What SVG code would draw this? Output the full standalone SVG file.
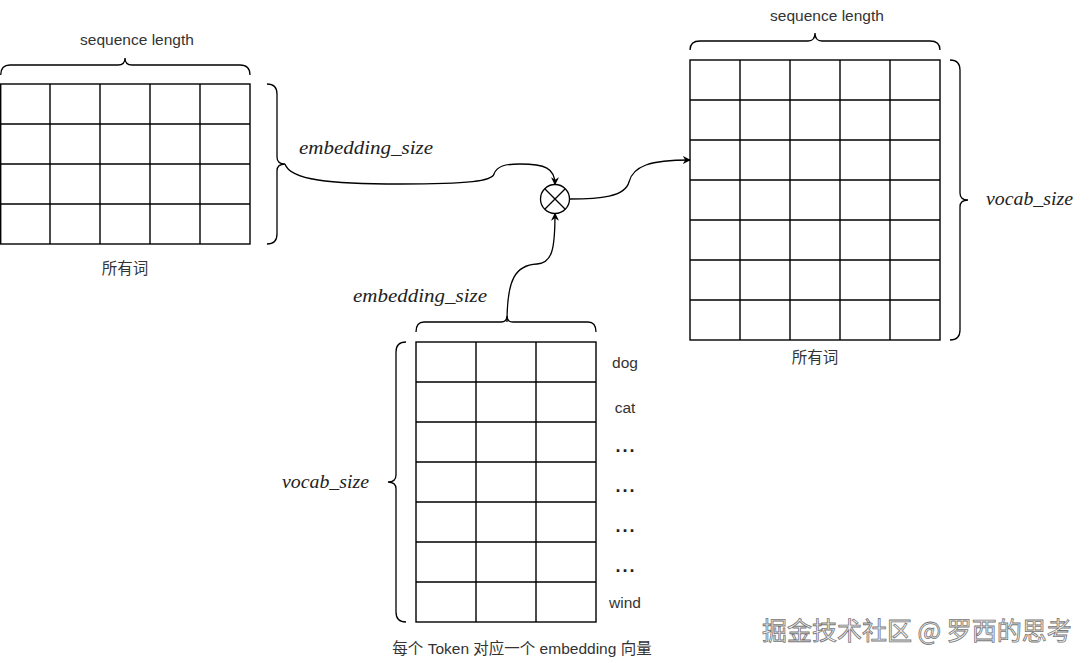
<svg xmlns="http://www.w3.org/2000/svg" width="1091" height="663" viewBox="0 0 1091 663">
<style>
.cell{fill:#fff;stroke:#000;stroke-width:1.4}
.grid{stroke:#000;stroke-width:1.4;fill:none}
.brace{fill:none;stroke:#000;stroke-width:1.3}
.conn{fill:none;stroke:#000;stroke-width:1.3}
.lbl{font-family:"Liberation Sans","Noto Sans CJK SC",sans-serif;font-size:15.5px;fill:#333}
.math{font-family:"Liberation Serif","DejaVu Serif",serif;font-style:italic;font-size:19px;fill:#222}
.dots{font-family:"Liberation Sans",sans-serif;font-size:18px;font-weight:bold;fill:#222;letter-spacing:2px}
.wm{font-family:"Noto Sans CJK SC",sans-serif;font-size:25px;fill:#f4f4f4;stroke:#777;stroke-width:0.8}
</style>
<defs>
<marker id="arr" viewBox="0 0 10 10" refX="9" refY="5" markerWidth="8" markerHeight="8" markerUnits="userSpaceOnUse" orient="auto">
<path d="M0,0 L10,5 L0,10 L3,5 Z" fill="#000"/>
</marker>
</defs>
<rect width="1091" height="663" fill="#fff"/>

<g id="matrix-left">
<rect class="cell" x="0.7" y="84" width="249.3" height="160"/>
<path class="grid" d="M50 84V244M100 84V244M150 84V244M200 84V244M0 124H250M0 164H250M0 204H250"/>
<path class="brace" d="M0.7 75 Q0.7 65 10 65 L118 65 Q125 65 125 58 Q125 65 132 65 L240 65 Q250 65 250 75"/>
<text class="lbl" x="137" y="45" text-anchor="middle">sequence length</text>
<path class="brace" d="M267 84 Q277 84 277 94 L277 157 Q277 164 285 164 Q277 164 277 171 L277 234 Q277 244 267 244"/>
<text class="math" x="299" y="154" textLength="134" lengthAdjust="spacingAndGlyphs">embedding_size</text>
<text class="lbl" x="125" y="274" text-anchor="middle" font-size="16">所有词</text>
</g>

<g id="multiply">
<circle cx="555" cy="199" r="14.5" fill="#fff" stroke="#000" stroke-width="1.3"/>
<path d="M545 189 L565 209 M565 189 L545 209" stroke="#000" stroke-width="1.3"/>
</g>

<g id="matrix-right">
<rect class="cell" x="690" y="60" width="250" height="280"/>
<path class="grid" d="M740 60V340M790 60V340M840 60V340M890 60V340M690 100H940M690 140H940M690 180H940M690 220H940M690 260H940M690 300H940"/>
<path class="brace" d="M690 50 Q690 41 700 41 L808 41 Q815 41 815 33 Q815 41 822 41 L930 41 Q940 41 940 50"/>
<text class="lbl" x="827" y="21" text-anchor="middle">sequence length</text>
<path class="brace" d="M950 60 Q960 60 960 70 L960 193 Q960 200 968 200 Q960 200 960 207 L960 330 Q960 340 950 340"/>
<text class="math" x="986" y="205" textLength="87" lengthAdjust="spacingAndGlyphs">vocab_size</text>
<text class="lbl" x="815" y="363" text-anchor="middle" font-size="16">所有词</text>
</g>

<g id="matrix-embedding">
<rect class="cell" x="416" y="342" width="180" height="280"/>
<path class="grid" d="M476 342V622M536 342V622M416 382H596M416 422H596M416 462H596M416 502H596M416 542H596M416 582H596"/>
<path class="brace" d="M416 332 Q416 322 424 322 L501 322 Q507 322 507 316 Q507 322 513 322 L588 322 Q596 322 596 332"/>
<text class="math" x="353" y="302" textLength="134" lengthAdjust="spacingAndGlyphs">embedding_size</text>
<path class="brace" d="M406 342 Q396 342 396 352 L396 475 Q396 482 388 482 Q396 482 396 489 L396 612 Q396 622 406 622"/>
<text class="math" x="282" y="488" textLength="87" lengthAdjust="spacingAndGlyphs">vocab_size</text>
<text class="lbl" x="625" y="368" text-anchor="middle">dog</text>
<text class="lbl" x="625" y="413" text-anchor="middle">cat</text>
<text class="dots" x="626" y="452" text-anchor="middle">...</text>
<text class="dots" x="626" y="492" text-anchor="middle">...</text>
<text class="dots" x="626" y="532" text-anchor="middle">...</text>
<text class="dots" x="626" y="572" text-anchor="middle">...</text>
<text class="lbl" x="625" y="608" text-anchor="middle">wind</text>
<text class="lbl" x="522" y="654" text-anchor="middle" font-size="16.5">每个 Token 对应一个 embedding 向量</text>
</g>

<g id="connectors">
<path class="conn" marker-end="url(#arr)" d="M285 164 C290 180 330 184 400 184 C470 184 492 181 494 174 C497 166 505 164 520 164 C545 164 555 168 555 184.5"/>
<path class="conn" marker-end="url(#arr)" d="M507 322 C507 280 515 265 537 264 C552 263 555 250 555 213.5"/>
<path class="conn" marker-end="url(#arr)" d="M569.5 199 C600 199 625 197 629 182 C633 166 650 160 690 160"/>
</g>

<text class="wm" x="762" y="640">掘金技术社区 @ 罗西的思考</text>
</svg>
